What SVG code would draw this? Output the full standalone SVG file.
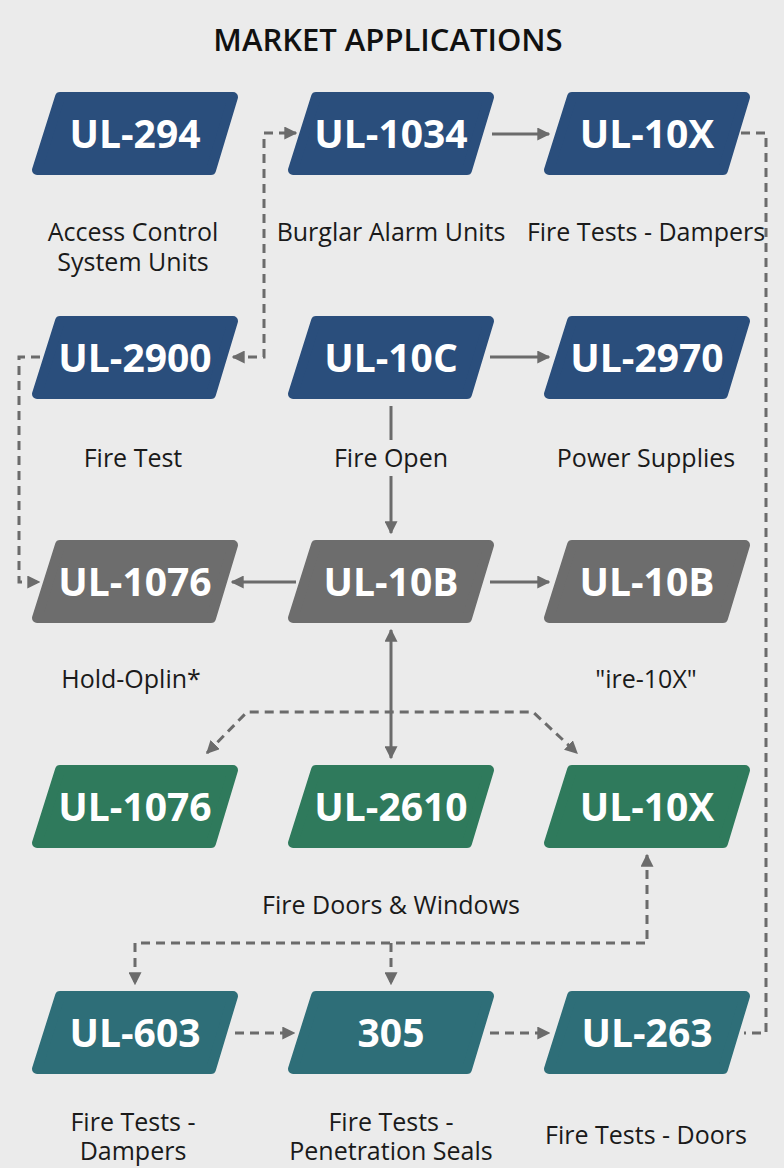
<svg xmlns="http://www.w3.org/2000/svg" width="784" height="1168" viewBox="0 0 784 1168">
<style>
.bg{fill:#ebebeb}
.shape{stroke-width:10;stroke-linejoin:round}
.blue{fill:#2a4e7c;stroke:#2a4e7c}
.gray{fill:#6d6d6d;stroke:#6d6d6d}
.green{fill:#2f7a5c;stroke:#2f7a5c}
.teal{fill:#2e6e78;stroke:#2e6e78}
.code{font-family:"Open Sans","Liberation Sans",sans-serif;font-weight:700;font-size:39px;fill:#ffffff;text-anchor:middle}
.lbl{font-family:"Open Sans","Liberation Sans",sans-serif;font-size:25px;fill:#1a1a1a;text-anchor:middle}
.title{font-family:"Open Sans","Liberation Sans",sans-serif;font-weight:600;font-size:31px;fill:#111111;text-anchor:middle}
.ln{fill:none;stroke:#6b6b6b;stroke-width:3}
.dash{stroke-dasharray:9 6}
</style>
<defs>
<marker id="ah" viewBox="0 0 10 10" refX="9" refY="5" markerWidth="13" markerHeight="13" markerUnits="userSpaceOnUse" orient="auto-start-reverse">
<path d="M0,0 L10,5 L0,10 z" fill="#6b6b6b"/>
</marker>
</defs>
<rect class="bg" x="0" y="0" width="784" height="1168"/>
<text class="title" x="388" y="51">MARKET APPLICATIONS</text>

<g id="connectors">
<path class="ln" d="M492 134 H549" marker-end="url(#ah)"/>
<path class="ln dash" d="M233 357 H264 V133 H296" marker-start="url(#ah)" marker-end="url(#ah)"/>
<path class="ln dash" d="M741 133 H766 V1033 H744"/>
<path class="ln" d="M490 357 H549" marker-end="url(#ah)"/>
<path class="ln dash" d="M40 357 H19 V582 H39" marker-end="url(#ah)"/>
<path class="ln" d="M391 406 V440"/>
<path class="ln" d="M391 476 V533" marker-end="url(#ah)"/>
<path class="ln" d="M296 582 H232" marker-end="url(#ah)"/>
<path class="ln" d="M490 582 H549" marker-end="url(#ah)"/>
<path class="ln" d="M391 630 V758" marker-start="url(#ah)" marker-end="url(#ah)"/>
<path class="ln dash" d="M207 753 L247 712 H533 L577 753" marker-start="url(#ah)" marker-end="url(#ah)"/>
<path class="ln dash" d="M647 855 V943 H135 V984" marker-start="url(#ah)" marker-end="url(#ah)"/>
<path class="ln dash" d="M391 943 V984" marker-end="url(#ah)"/>
<path class="ln dash" d="M235 1033 H294" marker-end="url(#ah)"/>
<path class="ln dash" d="M490 1033 H549" marker-end="url(#ah)"/>
</g>

<g id="n-ul294">
<path class="shape blue" d="M60 97 H233 L211 170 H37 Z"/>
<text class="code" x="135" y="148">UL-294</text>
<text class="lbl" x="133" y="241">Access Control</text>
<text class="lbl" x="133" y="271">System Units</text>
</g>
<g id="n-ul1034" transform="translate(256,0)">
<path class="shape blue" d="M60 97 H233 L211 170 H37 Z"/>
<text class="code" x="135" y="148">UL-1034</text>
<text class="lbl" x="135" y="241">Burglar Alarm Units</text>
</g>
<g id="n-ul10x-top" transform="translate(512,0)">
<path class="shape blue" d="M60 97 H233 L211 170 H37 Z"/>
<text class="code" x="135" y="148">UL-10X</text>
<text class="lbl" x="134" y="241">Fire Tests - Dampers</text>
</g>

<g id="n-ul2900" transform="translate(0,224)">
<path class="shape blue" d="M60 97 H233 L211 170 H37 Z"/>
<text class="code" x="135" y="148">UL-2900</text>
<text class="lbl" x="133" y="243">Fire Test</text>
</g>
<g id="n-ul10c" transform="translate(256,224)">
<path class="shape blue" d="M60 97 H233 L211 170 H37 Z"/>
<text class="code" x="135" y="148">UL-10C</text>
<text class="lbl" x="135" y="243">Fire Open</text>
</g>
<g id="n-ul2970" transform="translate(512,224)">
<path class="shape blue" d="M60 97 H233 L211 170 H37 Z"/>
<text class="code" x="135" y="148">UL-2970</text>
<text class="lbl" x="134" y="243">Power Supplies</text>
</g>

<g id="n-ul1076-gray" transform="translate(0,448)">
<path class="shape gray" d="M60 97 H233 L211 170 H37 Z"/>
<text class="code" x="135" y="148">UL-1076</text>
<text class="lbl" x="131" y="240">Hold-Oplin*</text>
</g>
<g id="n-ul10b" transform="translate(256,448)">
<path class="shape gray" d="M60 97 H233 L211 170 H37 Z"/>
<text class="code" x="135" y="148">UL-10B</text>
</g>
<g id="n-ul10b-right" transform="translate(512,448)">
<path class="shape gray" d="M60 97 H233 L211 170 H37 Z"/>
<text class="code" x="135" y="148">UL-10B</text>
<text class="lbl" x="134" y="240">"ire-10X"</text>
</g>

<g id="n-ul1076-green" transform="translate(0,673)">
<path class="shape green" d="M60 97 H233 L211 170 H37 Z"/>
<text class="code" x="135" y="148">UL-1076</text>
</g>
<g id="n-ul2610" transform="translate(256,673)">
<path class="shape green" d="M60 97 H233 L211 170 H37 Z"/>
<text class="code" x="135" y="148">UL-2610</text>
<text class="lbl" x="135" y="241">Fire Doors &amp; Windows</text>
</g>
<g id="n-ul10x-green" transform="translate(512,673)">
<path class="shape green" d="M60 97 H233 L211 170 H37 Z"/>
<text class="code" x="135" y="148">UL-10X</text>
</g>

<g id="n-ul603" transform="translate(0,899)">
<path class="shape teal" d="M60 97 H233 L211 170 H37 Z"/>
<text class="code" x="135" y="148">UL-603</text>
<text class="lbl" x="133" y="232">Fire Tests -</text>
<text class="lbl" x="133" y="261">Dampers</text>
</g>
<g id="n-305" transform="translate(256,899)">
<path class="shape teal" d="M60 97 H233 L211 170 H37 Z"/>
<text class="code" x="135" y="148">305</text>
<text class="lbl" x="135" y="232">Fire Tests -</text>
<text class="lbl" x="135" y="261">Penetration Seals</text>
</g>
<g id="n-ul263" transform="translate(512,899)">
<path class="shape teal" d="M60 97 H233 L211 170 H37 Z"/>
<text class="code" x="135" y="148">UL-263</text>
<text class="lbl" x="134" y="245">Fire Tests - Doors</text>
</g>
</svg>
